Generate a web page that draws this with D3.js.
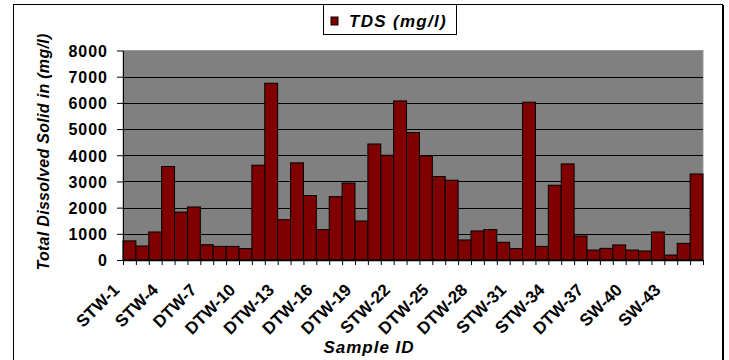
<!DOCTYPE html>
<html>
<head>
<meta charset="utf-8">
<script src="https://cdn.jsdelivr.net/npm/d3@7"></script>
<style>
  body { margin: 0; background: #fff; }
  svg { font-family: "Liberation Sans", Arial, sans-serif; }
  .tick text { font-weight: bold; }
</style>
</head>
<body>
<div id="chart"></div>
<script>
  // sample ids, only every third one is shown on the axis
  var sampleIds = [
    'STW-1','STW-2','STW-3','STW-4','STW-5','STW-6',
    'DTW-7','DTW-8','DTW-9','DTW-10','DTW-11','DTW-12','DTW-13','DTW-14','DTW-15',
    'DTW-16','DTW-17','DTW-18','DTW-19','DTW-20','DTW-21',
    'STW-22','STW-23','STW-24',
    'DTW-25','DTW-26','DTW-27','DTW-28','DTW-29','DTW-30',
    'STW-31','STW-32','STW-33','STW-34','STW-35','STW-36',
    'DTW-37','DTW-38','DTW-39',
    'SW-40','SW-41','SW-42','SW-43','SW-44','SW-45'
  ];

  // TDS (mg/l)
  var tdsValues = [
    730, 535, 1070, 3570, 1830, 2025,
    585, 520, 520, 435, 3620, 6750, 1540, 3710, 2460,
    1160, 2420, 2940, 1490, 4430, 4000,
    6075, 4865, 3975,
    3185, 3045, 765, 1110, 1160, 675,
    435, 6025, 520, 2855, 3670, 915,
    380, 445, 575,
    380, 345, 1070, 190, 635, 3285
  ];

  var yTicks = [0, 1000, 2000, 3000, 4000, 5000, 6000, 7000, 8000];

  var width = 729, height = 360;
  var margin = { top: 50.5, right: 26, bottom: 100, left: 123 };

  var svg = d3.select('#chart').append('svg')
    .attr('width', width)
    .attr('height', height);

  // outer chart frame
  svg.append('rect')
    .attr('x', 13.5).attr('y', 4.5)
    .attr('width', 709).attr('height', 370)
    .attr('fill', 'none')
    .attr('stroke', '#000')
    .attr('stroke-width', 1);
  svg.append('line')
    .attr('x1', 723).attr('x2', 723)
    .attr('y1', 5).attr('y2', 370)
    .attr('stroke', '#000')
    .attr('stroke-width', 2);

  var x = d3.scaleBand()
    .domain(sampleIds)
    .range([margin.left, width - margin.right])
    .padding(0);

  var y = d3.scaleLinear()
    .domain([0, 8000])
    .range([height - margin.bottom, margin.top]);

  // plot area
  svg.append('rect')
    .attr('x', margin.left)
    .attr('y', y(8000))
    .attr('width', width - margin.right - margin.left)
    .attr('height', y(0) - y(8000))
    .attr('fill', '#808080')
    .attr('stroke', '#9a9a9a');

  // gridlines
  svg.append('g')
    .selectAll('line')
    .data(yTicks.slice(1, -1))
    .enter().append('line')
    .attr('x1', margin.left)
    .attr('x2', width - margin.right)
    .attr('y1', function (d) { return Math.round(y(d)) + 0.5; })
    .attr('y2', function (d) { return Math.round(y(d)) + 0.5; })
    .attr('stroke', '#000')
    .attr('stroke-width', 1);

  // bars
  svg.append('g')
    .selectAll('rect')
    .data(tdsValues)
    .enter().append('rect')
    .attr('x', function (d, i) { return x(sampleIds[i]); })
    .attr('y', function (d) { return y(d); })
    .attr('width', x.bandwidth())
    .attr('height', function (d) { return y(0) - y(d); })
    .attr('fill', '#800000')
    .attr('stroke', '#000')
    .attr('stroke-width', 1);

  // y axis
  var yAxis = svg.append('g')
    .attr('transform', 'translate(' + margin.left + ',0)')
    .call(d3.axisLeft(y).tickValues(yTicks).tickFormat(d3.format('d'))
      .tickSize(6).tickPadding(9).tickSizeOuter(0));
  yAxis.select('.domain').attr('stroke', '#000');
  yAxis.selectAll('.tick text')
    .attr('font-size', 16)
    .attr('letter-spacing', 1)
    .attr('dy', '0.36em')
    .attr('fill', '#000');

  // x axis: ticks at every bar boundary
  var edge = d3.scaleLinear()
    .domain([0, sampleIds.length])
    .range(x.range());
  var xTicks = svg.append('g')
    .attr('transform', 'translate(0,' + y(0) + ')')
    .call(d3.axisBottom(edge).ticks(sampleIds.length).tickSize(5).tickFormat('').tickSizeOuter(0));
  xTicks.select('.domain').attr('stroke', '#000').attr('stroke-width', 1.5);

  // x labels, every third sample, rotated 45 degrees
  var shownIds = sampleIds.filter(function (d, i) { return i % 3 === 0; });
  svg.append('g')
    .selectAll('text')
    .data(shownIds)
    .enter().append('text')
    .attr('transform', function (d) {
      var cx = x(d) + x.bandwidth() / 2 - 9;
      return 'translate(' + cx + ',' + (y(0) + 31) + ') rotate(-45)';
    })
    .attr('text-anchor', 'end')
    .attr('font-size', 17)
    .attr('font-weight', 'bold')
    .attr('fill', '#000')
    .text(function (d) { return d; });

  // axis titles
  svg.append('text')
    .attr('transform', 'translate(49,152) rotate(-90)')
    .attr('text-anchor', 'middle')
    .attr('font-size', 16)
    .attr('letter-spacing', 0.3)
    .attr('font-weight', 'bold')
    .attr('font-style', 'italic')
    .text('Total Dissolved Solid in (mg/l)');

  svg.append('text')
    .attr('x', 369)
    .attr('y', 353)
    .attr('text-anchor', 'middle')
    .attr('font-size', 17)
    .attr('letter-spacing', 1)
    .attr('font-weight', 'bold')
    .attr('font-style', 'italic')
    .text('Sample ID');

  // legend
  var legend = svg.append('g');
  legend.append('rect')
    .attr('x', 323.5).attr('y', 4.5)
    .attr('width', 133).attr('height', 30)
    .attr('fill', '#fff')
    .attr('stroke', '#000');
  legend.append('rect')
    .attr('x', 331).attr('y', 17)
    .attr('width', 7).attr('height', 8)
    .attr('fill', '#800000')
    .attr('stroke', '#000');
  legend.append('text')
    .attr('x', 349).attr('y', 27)
    .attr('font-size', 17)
    .attr('letter-spacing', 1.3)
    .attr('font-weight', 'bold')
    .attr('font-style', 'italic')
    .text('TDS (mg/l)');
</script>
</body>
</html>
